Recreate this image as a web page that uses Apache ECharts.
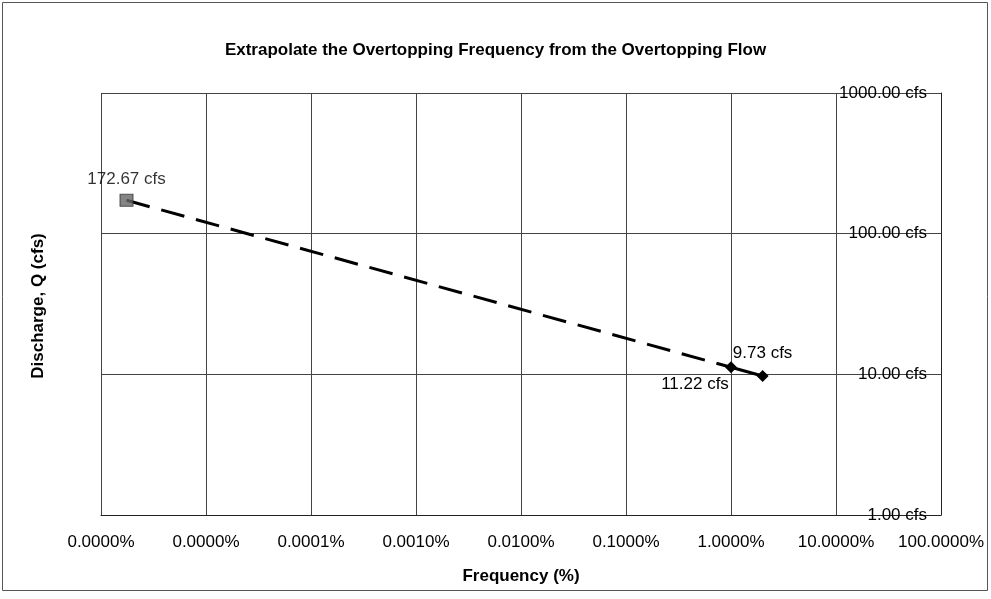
<!DOCTYPE html>
<html>
<head>
<meta charset="utf-8">
<script src="https://cdn.jsdelivr.net/npm/echarts@6/dist/echarts.min.js"></script>
<style>html,body{margin:0;padding:0;background:#fff}#c{width:991px;height:599px}</style>
</head>
<body>
<div id="c"></div>
<script>
// Data (frequency in %, discharge in cfs)
var observedFreq = [1, 2];
var observedQ = [11.22, 9.73];
var extrapFreq = [0.00000175, 1];
var extrapQ = [172.67, 11.22];
var xTicks = [0.000001, 0.00001, 0.0001, 0.001, 0.01, 0.1, 1, 10, 100];
var yTicks = [1, 10, 100, 1000];

var chart = echarts.init(document.getElementById('c'));
var font = 'Liberation Sans, Arial, sans-serif';
var gridColor = '#444';
var fs = 17;

function pairs(xs, ys) { return xs.map(function (x, i) { return [x, ys[i]]; }); }
function cfs(p) { return p.value[1].toFixed(2) + ' cfs'; }

chart.setOption({
  animation: false,
  backgroundColor: '#fff',
  title: {
    text: 'Extrapolate the Overtopping Frequency from the Overtopping Flow',
    left: 'center', top: 37,
    textStyle: { fontFamily: font, fontSize: 17, fontWeight: 'bold', color: '#000' }
  },
  grid: { left: 101, right: 50, top: 93, bottom: 84 },
  xAxis: {
    type: 'log', logBase: 10, min: xTicks[0], max: xTicks[xTicks.length - 1],
    name: 'Frequency (%)', nameLocation: 'middle', nameGap: 53,
    nameTextStyle: { fontFamily: font, fontSize: fs, fontWeight: 'bold', color: '#000' },
    axisLine: { show: true, onZero: false, lineStyle: { color: '#222', width: 1 } },
    axisTick: { show: false },
    axisLabel: { margin: 19, fontFamily: font, fontSize: fs, color: '#000',
      formatter: function (v) { return v.toFixed(4) + '%'; } },
    splitLine: { show: true, lineStyle: { color: gridColor, width: 1 } }
  },
  yAxis: {
    type: 'log', logBase: 10, min: yTicks[0], max: yTicks[yTicks.length - 1], position: 'right',
    axisLine: { show: true, onZero: false, lineStyle: { color: '#222', width: 1 } },
    axisTick: { show: false },
    axisLabel: { inside: true, margin: 14, fontFamily: font, fontSize: fs, color: '#000',
      formatter: function (v) { return v.toFixed(2) + ' cfs'; } },
    splitLine: { show: true, lineStyle: { color: gridColor, width: 1 } }
  },
  graphic: [
    { type: 'rect', shape: { x: 2.5, y: 2.5, width: 985, height: 588 },
      style: { fill: 'none', stroke: '#555', lineWidth: 1 }, silent: true },
    { type: 'text', x: 38, y: 306, rotation: Math.PI / 2,
      style: { text: 'Discharge, Q (cfs)', fontFamily: font, fontSize: fs, fontWeight: 'bold',
        fill: '#000', textAlign: 'center', textVerticalAlign: 'middle' } }
  ],
  series: [
    {
      type: 'line', data: pairs(extrapFreq, extrapQ), z: 3,
      lineStyle: { color: '#000', width: 3, type: [24, 12] },
      symbol: 'none'
    },
    {
      type: 'scatter', data: [pairs(extrapFreq, extrapQ)[0]], z: 4,
      symbol: 'rect', symbolSize: [13, 12],
      itemStyle: { color: '#666', borderColor: '#333', borderWidth: 1 },
      label: { show: true, position: 'top', distance: 6, fontFamily: font, fontSize: fs, color: '#000',
        formatter: cfs }
    },
    {
      type: 'line', z: 5,
      data: [
        { value: [observedFreq[0], observedQ[0]], label: { position: 'bottom', distance: 3, offset: [-36, 0] } },
        { value: [observedFreq[1], observedQ[1]], label: { position: 'top', distance: 8 } }
      ],
      lineStyle: { color: '#000', width: 3 },
      symbol: 'diamond', symbolSize: 12, showAllSymbol: true,
      itemStyle: { color: '#000' },
      label: { show: true, fontFamily: font, fontSize: fs, color: '#000', formatter: cfs },
      emphasis: { disabled: true }
    }
  ]
});
</script>
</body>
</html>
